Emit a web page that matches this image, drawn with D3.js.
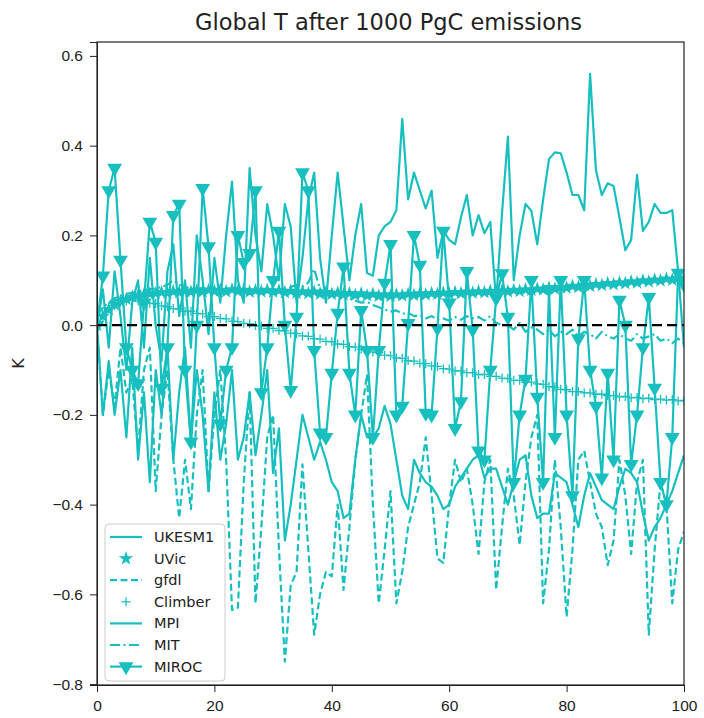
<!DOCTYPE html>
<html>
<head>
<meta charset="utf-8">
<script src="https://cdn.jsdelivr.net/npm/d3@7"></script>
<style>
  body { margin: 0; background: #fff; }
  svg { display: block; font-family: "DejaVu Sans", sans-serif; }
  .axis text { font-size: 15.5px; fill: #222; }
  .axis path, .axis line { stroke: #222; }
</style>
</head>
<body>
<svg id="chart" width="704" height="718"></svg>
<script>
// years 0..100
const years = d3.range(0, 101);

const ukesm1 = [
  0.00, 0.08, -0.05, 0.12, 0.02, -0.10, 0.05, 0.10, -0.05, 0.15,
  0.00, -0.08, 0.12, 0.18, 0.02, 0.10, -0.05, 0.20, 0.10, -0.02,
  0.15, 0.05, 0.20, 0.32, 0.10, 0.05, 0.35, 0.20, 0.12, 0.27,
  0.20, 0.10, 0.27, 0.22, 0.05, 0.15, 0.28, 0.34, 0.15, 0.05,
  0.20, 0.34, 0.22, 0.10, 0.20, 0.27, 0.116, 0.11, 0.20, 0.22,
  0.23, 0.256, 0.46, 0.28, 0.34, 0.30, 0.26, 0.30, 0.15, 0.21,
  0.19, 0.18, 0.24, 0.29, 0.20, 0.245, 0.205, 0.23, 0.05, 0.25,
  0.42, 0.10, 0.20, 0.27, 0.255, 0.18, 0.28, 0.37, 0.385, 0.383,
  0.34, 0.29, 0.29, 0.256, 0.56, 0.345, 0.29, 0.316, 0.31, 0.24,
  0.167, 0.19, 0.335, 0.21, 0.23, 0.27, 0.25, 0.25, 0.256, 0.12,
  -0.05
];

const uvic = [
  0.000, 0.020, 0.035, 0.046, 0.053, 0.058, 0.063, 0.066, 0.068, 0.070,
  0.071, 0.073, 0.072, 0.075, 0.073, 0.076, 0.074, 0.077, 0.075, 0.078,
  0.076, 0.078, 0.075, 0.079, 0.076, 0.078, 0.074, 0.077, 0.075, 0.078,
  0.074, 0.077, 0.073, 0.076, 0.072, 0.075, 0.071, 0.074, 0.070, 0.073,
  0.069, 0.072, 0.068, 0.071, 0.067, 0.070, 0.066, 0.069, 0.065, 0.068,
  0.065, 0.068, 0.066, 0.069, 0.067, 0.070, 0.068, 0.071, 0.069, 0.072,
  0.070, 0.073, 0.071, 0.074, 0.072, 0.075, 0.073, 0.076, 0.074, 0.077,
  0.075, 0.078, 0.076, 0.079, 0.078, 0.081, 0.079, 0.083, 0.081, 0.085,
  0.083, 0.087, 0.085, 0.089, 0.087, 0.091, 0.089, 0.093, 0.091, 0.095,
  0.093, 0.097, 0.095, 0.099, 0.097, 0.101, 0.099, 0.103, 0.101, 0.105,
  0.104
];

const gfdl = [
  0.00, -0.20, -0.10, -0.18, -0.05, -0.15, -0.12, -0.28, -0.10, -0.05,
  -0.37, -0.20, -0.10, -0.30, -0.43, -0.30, -0.41, -0.20, -0.10, -0.37,
  -0.20, -0.10, -0.30, -0.635, -0.63, -0.35, -0.15, -0.62, -0.45, -0.25,
  -0.20, -0.50, -0.75, -0.58, -0.55, -0.31, -0.50, -0.69, -0.60, -0.55,
  -0.56, -0.40, -0.59, -0.45, -0.30, -0.20, -0.11, -0.40, -0.62, -0.50,
  -0.37, -0.62, -0.55, -0.45, -0.40, -0.35, -0.25, -0.38, -0.52, -0.53,
  -0.40, -0.30, -0.35, -0.32, -0.40, -0.51, -0.35, -0.30, -0.59, -0.45,
  -0.32, -0.38, -0.49, -0.35, -0.25, -0.20, -0.62, -0.50, -0.30, -0.45,
  -0.65, -0.50, -0.30, -0.28, -0.35, -0.42, -0.45, -0.535, -0.48, -0.30,
  -0.38, -0.51, -0.35, -0.30, -0.69, -0.50, -0.35, -0.40, -0.62, -0.50,
  -0.46
];

const climber = [
  0.000, 0.020, 0.036, 0.044, 0.051, 0.054, 0.059, 0.054, 0.053, 0.049,
  0.048, 0.043, 0.041, 0.037, 0.036, 0.031, 0.031, 0.026, 0.025, 0.019,
  0.019, 0.015, 0.014, 0.009, 0.008, 0.004, 0.003, -0.001, -0.002, -0.007,
  -0.007, -0.012, -0.013, -0.018, -0.019, -0.024, -0.025, -0.030, -0.031, -0.036,
  -0.037, -0.042, -0.043, -0.048, -0.049, -0.054, -0.055, -0.060, -0.061, -0.067,
  -0.068, -0.073, -0.074, -0.079, -0.080, -0.085, -0.086, -0.091, -0.092, -0.097,
  -0.098, -0.102, -0.102, -0.106, -0.106, -0.110, -0.110, -0.114, -0.114, -0.118,
  -0.119, -0.123, -0.123, -0.127, -0.127, -0.131, -0.132, -0.137, -0.138, -0.143,
  -0.144, -0.148, -0.148, -0.151, -0.151, -0.154, -0.154, -0.157, -0.157, -0.160,
  -0.159, -0.162, -0.161, -0.164, -0.163, -0.166, -0.165, -0.167, -0.166, -0.169,
  -0.168
];

const mpi = [
  0.00, -0.20, -0.08, -0.20, -0.10, -0.25, -0.05, -0.30, -0.15, -0.35,
  -0.10, -0.20, -0.05, -0.30, -0.15, -0.05, -0.26, -0.10, -0.20, -0.37,
  -0.15, -0.30, -0.22, -0.10, -0.30, -0.25, -0.15, -0.29, -0.20, -0.10,
  -0.33, -0.23, -0.48, -0.40, -0.30, -0.20, -0.25, -0.30, -0.26, -0.30,
  -0.35, -0.37, -0.43, -0.42, -0.30, -0.20, -0.25, -0.25, -0.23, -0.18,
  -0.22, -0.30, -0.38, -0.41, -0.30, -0.33, -0.35, -0.36, -0.38, -0.41,
  -0.40, -0.36, -0.34, -0.32, -0.30, -0.29, -0.34, -0.32, -0.32, -0.36,
  -0.40, -0.35, -0.30, -0.29, -0.38, -0.43, -0.42, -0.42, -0.33, -0.34,
  -0.35, -0.40, -0.45, -0.38, -0.33, -0.36, -0.39, -0.40, -0.41, -0.36,
  -0.32, -0.33, -0.35, -0.42, -0.48, -0.45, -0.43, -0.40, -0.37, -0.33,
  -0.29
];

const mit = [
  0.020, 0.040, 0.050, 0.060, 0.065, 0.070, 0.072, 0.075, 0.078, 0.080,
  0.082, 0.085, 0.090, 0.100, 0.090, 0.085, 0.082, 0.080, 0.083, 0.080,
  0.082, 0.078, 0.080, 0.077, 0.079, 0.080, 0.076, 0.078, 0.075, 0.077,
  0.074, 0.080, 0.078, 0.085, 0.090, 0.085, 0.095, 0.125, 0.080, 0.072,
  0.070, 0.065, 0.068, 0.060, 0.055, 0.050, 0.052, 0.045, 0.040, 0.035,
  0.030, 0.033, 0.025, 0.028, 0.020, 0.022, 0.015, 0.020, 0.012, 0.015,
  0.010, 0.018, 0.012, 0.020, 0.015, 0.018, 0.010, 0.020, 0.005, 0.000,
  0.000, -0.010, 0.005, -0.015, -0.005, -0.010, -0.020, -0.010, -0.025, -0.015,
  -0.020, -0.010, -0.025, -0.015, -0.020, -0.030, -0.015, -0.025, -0.030, -0.020,
  -0.030, -0.035, -0.020, -0.030, -0.025, -0.020, -0.035, -0.030, -0.040, -0.030,
  -0.040
];

const miroc = [
  0.00, 0.11, 0.30, 0.35, 0.145, -0.05, -0.10, -0.13, 0.05, 0.23,
  0.185, -0.14, -0.05, 0.245, 0.27, -0.10, -0.26, 0.00, 0.305, 0.175,
  -0.05, -0.22, -0.10, -0.05, 0.20, 0.14, 0.16, 0.30, -0.15, -0.05,
  0.10, 0.21, 0.00, -0.145, 0.018, 0.34, 0.30, -0.056, -0.24, -0.25,
  -0.107, 0.027, 0.13, -0.107, -0.20, 0.033, -0.056, -0.25, -0.056, 0.094,
  0.18, -0.20, -0.18, 0.004, 0.20, 0.134, -0.196, -0.20, -0.007, 0.21,
  0.05, -0.23, -0.17, 0.12, -0.01, -0.28, -0.30, -0.10, 0.06, 0.115,
  0.018, -0.35, -0.20, -0.12, 0.10, -0.16, -0.35, 0.08, -0.25, 0.10,
  -0.20, -0.38, -0.03, 0.10, -0.10, -0.18, -0.34, -0.107, -0.30, 0.056,
  0.00, -0.31, -0.20, -0.05, 0.062, -0.14, -0.35, -0.40, -0.25, 0.116,
  0.09
];

const models = ["UKESM1", "UVic", "gfdl", "Climber", "MPI", "MIT", "MIROC"];
const xTicks = [0, 20, 40, 60, 80, 100];
const yTicks = [-0.8, -0.6, -0.4, -0.2, 0.0, 0.2, 0.4, 0.6];

const color = "#17bfbf";
const lw = 2.2;

const series = [
  { name: "UKESM1", values: ukesm1, dash: null, line: true, marker: null },
  { name: "UVic", values: uvic, dash: null, line: false, marker: "star" },
  { name: "gfdl", values: gfdl, dash: "7,3.5", line: true, marker: null },
  { name: "Climber", values: climber, dash: null, line: false, marker: "plus" },
  { name: "MPI", values: mpi, dash: null, line: true, marker: null },
  { name: "MIT", values: mit, dash: "10,3.5,2,3.5", line: true, marker: null },
  { name: "MIROC", values: miroc, dash: null, line: true, marker: "tri" }
];

const margin = { top: 42, right: 20, bottom: 33, left: 97 };
const width = 704, height = 718;

const svg = d3.select("#chart");

const x = d3.scaleLinear().domain([0, 100]).range([margin.left, width - margin.right]);
const y = d3.scaleLinear().domain([-0.802, 0.631]).range([height - margin.bottom, margin.top]);

svg.append("defs").append("clipPath").attr("id", "clip")
  .append("rect")
  .attr("x", margin.left).attr("y", margin.top)
  .attr("width", x(100) - margin.left)
  .attr("height", y(-0.802) - margin.top);

const plot = svg.append("g").attr("clip-path", "url(#clip)");

const starPath = d3.symbol().type(d3.symbolStar).size(65)();
const triPath = d3.symbol().type(d3.symbolTriangle).size(95)();

function drawMarker(g, kind, cx, cy) {
  if (kind === "star") {
    g.append("path").attr("d", starPath)
      .attr("transform", `translate(${cx},${cy})`)
      .attr("fill", color);
  } else if (kind === "plus") {
    g.append("path")
      .attr("d", `M${cx - 4.5},${cy}H${cx + 4.5}M${cx},${cy - 4.5}V${cy + 4.5}`)
      .attr("stroke", color).attr("stroke-width", 1.3).attr("fill", "none");
  } else if (kind === "tri") {
    g.append("path").attr("d", triPath)
      .attr("transform", `translate(${cx},${cy}) rotate(180)`)
      .attr("fill", color);
  }
}

const line = d3.line().x((d, i) => x(years[i])).y(d => y(d));

series.forEach(s => {
  const g = plot.append("g");
  if (s.line) {
    g.append("path")
      .datum(s.values)
      .attr("d", line)
      .attr("fill", "none")
      .attr("stroke", color)
      .attr("stroke-width", lw)
      .attr("stroke-linejoin", "round")
      .attr("stroke-dasharray", s.dash);
  }
  if (s.marker) {
    s.values.forEach((v, i) => drawMarker(g, s.marker, x(years[i]), y(v)));
  }
});

// zero line
plot.append("line")
  .attr("x1", x(0)).attr("x2", x(100))
  .attr("y1", y(0)).attr("y2", y(0))
  .attr("stroke", "#000")
  .attr("stroke-width", 2.4)
  .attr("stroke-dasharray", "10,5");

// axes
svg.append("g")
  .attr("class", "axis")
  .attr("transform", `translate(0,${y(-0.802)})`)
  .call(d3.axisBottom(x).tickValues(xTicks).tickSize(7).tickPadding(8).tickFormat(d3.format("d")));

svg.append("g")
  .attr("class", "axis")
  .attr("transform", `translate(${margin.left},0)`)
  .call(d3.axisLeft(y).tickValues(yTicks).tickSize(7).tickPadding(7)
    .tickFormat(d => d3.format(".1f")(d).replace("-", "\u2212")));

// frame
svg.append("rect")
  .attr("x", margin.left).attr("y", margin.top)
  .attr("width", x(100) - margin.left)
  .attr("height", y(-0.802) - margin.top)
  .attr("fill", "none").attr("stroke", "#222").attr("stroke-width", 1.2);

// title and y label
svg.append("text")
  .attr("x", (x(0) + x(100)) / 2 - 2).attr("y", 30)
  .attr("text-anchor", "middle")
  .style("font-size", "22.5px").style("fill", "#222")
  .text("Global T after 1000 PgC emissions");

svg.append("text")
  .attr("transform", `translate(24,${(y(0.631) + y(-0.802)) / 2}) rotate(-90)`)
  .attr("text-anchor", "middle")
  .style("font-size", "16px").style("fill", "#222")
  .text("K");

// legend
const leg = svg.append("g").attr("transform", "translate(105,524)");
leg.append("rect")
  .attr("width", 120).attr("height", 157).attr("rx", 4)
  .attr("fill", "#fff").attr("fill-opacity", 0.8)
  .attr("stroke", "#ccc");

series.forEach((s, i) => {
  const cy = 13 + i * 21.6;
  const g = leg.append("g");
  if (s.line) {
    g.append("line")
      .attr("x1", 5).attr("x2", 37).attr("y1", cy).attr("y2", cy)
      .attr("stroke", color).attr("stroke-width", lw)
      .attr("stroke-dasharray", s.dash);
  }
  if (s.marker) drawMarker(g, s.marker, 21, cy);
  g.append("text")
    .attr("x", 49).attr("y", cy).attr("dy", "0.35em")
    .style("font-size", "14.5px").style("fill", "#222")
    .text(models[i]);
});
</script>
</body>
</html>
